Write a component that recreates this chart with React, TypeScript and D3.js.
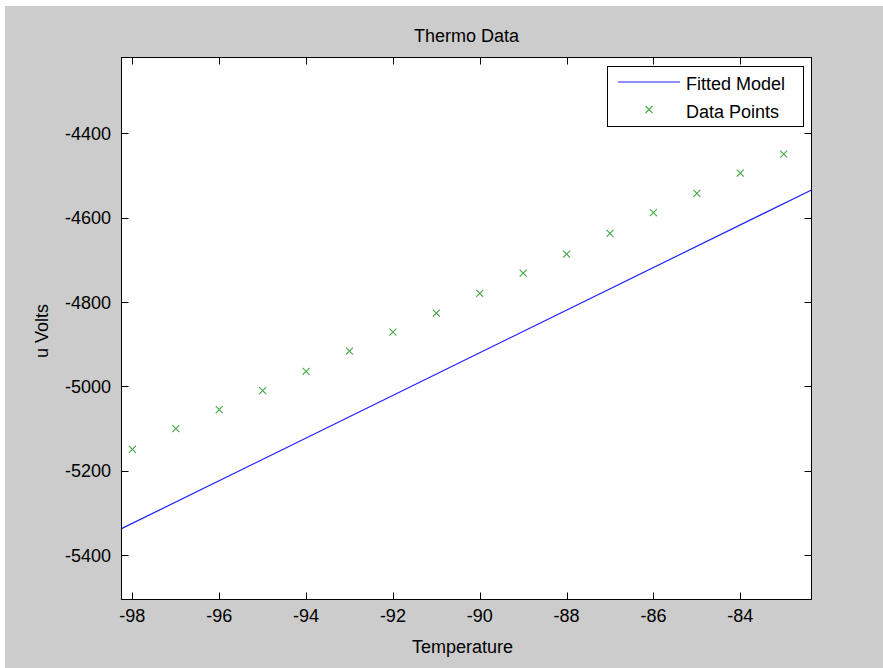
import React, { useEffect, useRef } from "react";
import * as d3 from "d3";

// Data points
const temps = [-98, -97, -96, -95, -94, -93, -92, -91, -90, -89, -88, -87, -86, -85, -84, -83];
const volts = [
  -5149, -5100, -5055, -5010, -4964, -4916, -4871, -4826, -4779, -4731, -4686, -4637, -4588,
  -4542, -4494, -4449,
];

// Fitted model line endpoints (spans the x limits)
const fitTemps = [-98.25, -82.36];
const fitVolts = [-5337, -4534];

const xTicks = [-98, -96, -94, -92, -90, -88, -86, -84];
const yTicks = [-5400, -5200, -5000, -4800, -4600, -4400];

const xLimits = [-98.25, -82.36];
const yLimits = [-5505, -4220];

const App = () => {
  const svgRef = useRef<SVGSVGElement>(null);

  useEffect(() => {
    const W = 883;
    const H = 668;
    const box = { left: 121.5, right: 811.5, top: 57.5, bottom: 599.5 };
    const font = "'Liberation Sans', Arial, sans-serif";
    const fs = 18;

    const svg = d3.select(svgRef.current).attr("width", W).attr("height", H);
    svg.selectAll("*").remove();

    // Figure background
    svg.append("rect").attr("width", W).attr("height", H).attr("fill", "#ffffff");
    svg
      .append("rect")
      .attr("x", 5)
      .attr("y", 6)
      .attr("width", W - 5)
      .attr("height", H - 6)
      .attr("fill", "#cccccc");

    const x = d3.scaleLinear().domain(xLimits).range([box.left, box.right]);
    const y = d3.scaleLinear().domain(yLimits).range([box.bottom, box.top]);

    // Axes area
    svg
      .append("rect")
      .attr("x", box.left)
      .attr("y", box.top)
      .attr("width", box.right - box.left)
      .attr("height", box.bottom - box.top)
      .attr("fill", "#ffffff");

    svg
      .append("clipPath")
      .attr("id", "plot-clip")
      .append("rect")
      .attr("x", box.left)
      .attr("y", box.top)
      .attr("width", box.right - box.left)
      .attr("height", box.bottom - box.top);

    const plot = svg.append("g").attr("clip-path", "url(#plot-clip)");

    // Fitted model
    const line = d3
      .line<number>()
      .x((d) => x(d))
      .y((d, i) => y(fitVolts[i]));
    plot
      .append("path")
      .attr("d", line(fitTemps))
      .attr("fill", "none")
      .attr("stroke", "#1f1fff")
      .attr("stroke-width", 1.2);

    // Data points as x markers
    const cross = (cx: number, cy: number, r: number) =>
      `M${cx - r},${cy - r}L${cx + r},${cy + r}M${cx - r},${cy + r}L${cx + r},${cy - r}`;
    plot
      .selectAll(".pt")
      .data(temps)
      .join("path")
      .attr("class", "pt")
      .attr("d", (d, i) => cross(x(d), y(volts[i]), 3.5))
      .attr("stroke", "#45a845")
      .attr("stroke-width", 1.1)
      .attr("fill", "none");

    // Box and ticks
    const axes = svg.append("g").attr("stroke", "#000").attr("stroke-width", 1);
    axes
      .append("rect")
      .attr("x", box.left)
      .attr("y", box.top)
      .attr("width", box.right - box.left)
      .attr("height", box.bottom - box.top)
      .attr("fill", "none");

    const tl = 7;
    xTicks.forEach((t) => {
      const px = Math.round(x(t)) + 0.5;
      axes.append("line").attr("x1", px).attr("x2", px).attr("y1", box.bottom).attr("y2", box.bottom - tl);
      axes.append("line").attr("x1", px).attr("x2", px).attr("y1", box.top).attr("y2", box.top + tl);
    });
    yTicks.forEach((t) => {
      const py = Math.round(y(t)) + 0.5;
      axes.append("line").attr("x1", box.left).attr("x2", box.left + tl).attr("y1", py).attr("y2", py);
      axes.append("line").attr("x1", box.right).attr("x2", box.right - tl).attr("y1", py).attr("y2", py);
    });

    const labels = svg
      .append("g")
      .attr("font-family", font)
      .attr("font-size", fs)
      .attr("fill", "#000");

    labels
      .selectAll(".xt")
      .data(xTicks)
      .join("text")
      .attr("class", "xt")
      .attr("x", (d) => x(d))
      .attr("y", 622)
      .attr("text-anchor", "middle")
      .text((d) => String(d));

    labels
      .selectAll(".yt")
      .data(yTicks)
      .join("text")
      .attr("class", "yt")
      .attr("x", 111)
      .attr("y", (d) => y(d))
      .attr("dy", "0.36em")
      .attr("text-anchor", "end")
      .text((d) => String(d));

    // Title and axis labels
    labels
      .append("text")
      .attr("x", (box.left + box.right) / 2)
      .attr("y", 42)
      .attr("text-anchor", "middle")
      .text("Thermo Data");

    labels
      .append("text")
      .attr("x", (box.left + box.right) / 2 - 4)
      .attr("y", 653)
      .attr("text-anchor", "middle")
      .text("Temperature");

    labels
      .append("text")
      .attr("transform", `translate(48,331) rotate(-90)`)
      .attr("text-anchor", "middle")
      .text("u Volts");

    // Legend
    const legend = svg.append("g");
    legend
      .append("rect")
      .attr("x", 607.5)
      .attr("y", 66.5)
      .attr("width", 196)
      .attr("height", 60)
      .attr("fill", "#ffffff")
      .attr("stroke", "#000");
    legend
      .append("line")
      .attr("x1", 618)
      .attr("x2", 680)
      .attr("y1", 82)
      .attr("y2", 82)
      .attr("stroke", "#1f1fff")
      .attr("stroke-width", 1.2);
    legend
      .append("path")
      .attr("d", cross(649, 109.5, 3.5))
      .attr("stroke", "#45a845")
      .attr("stroke-width", 1.1)
      .attr("fill", "none");
    legend
      .append("text")
      .attr("x", 686)
      .attr("y", 90)
      .attr("font-family", font)
      .attr("font-size", fs)
      .text("Fitted Model");
    legend
      .append("text")
      .attr("x", 686)
      .attr("y", 118)
      .attr("font-family", font)
      .attr("font-size", fs)
      .text("Data Points");
  }, []);

  return <svg ref={svgRef} style={{ position: "absolute", left: 0, top: 0, display: "block" }}></svg>;
};

export default App;
